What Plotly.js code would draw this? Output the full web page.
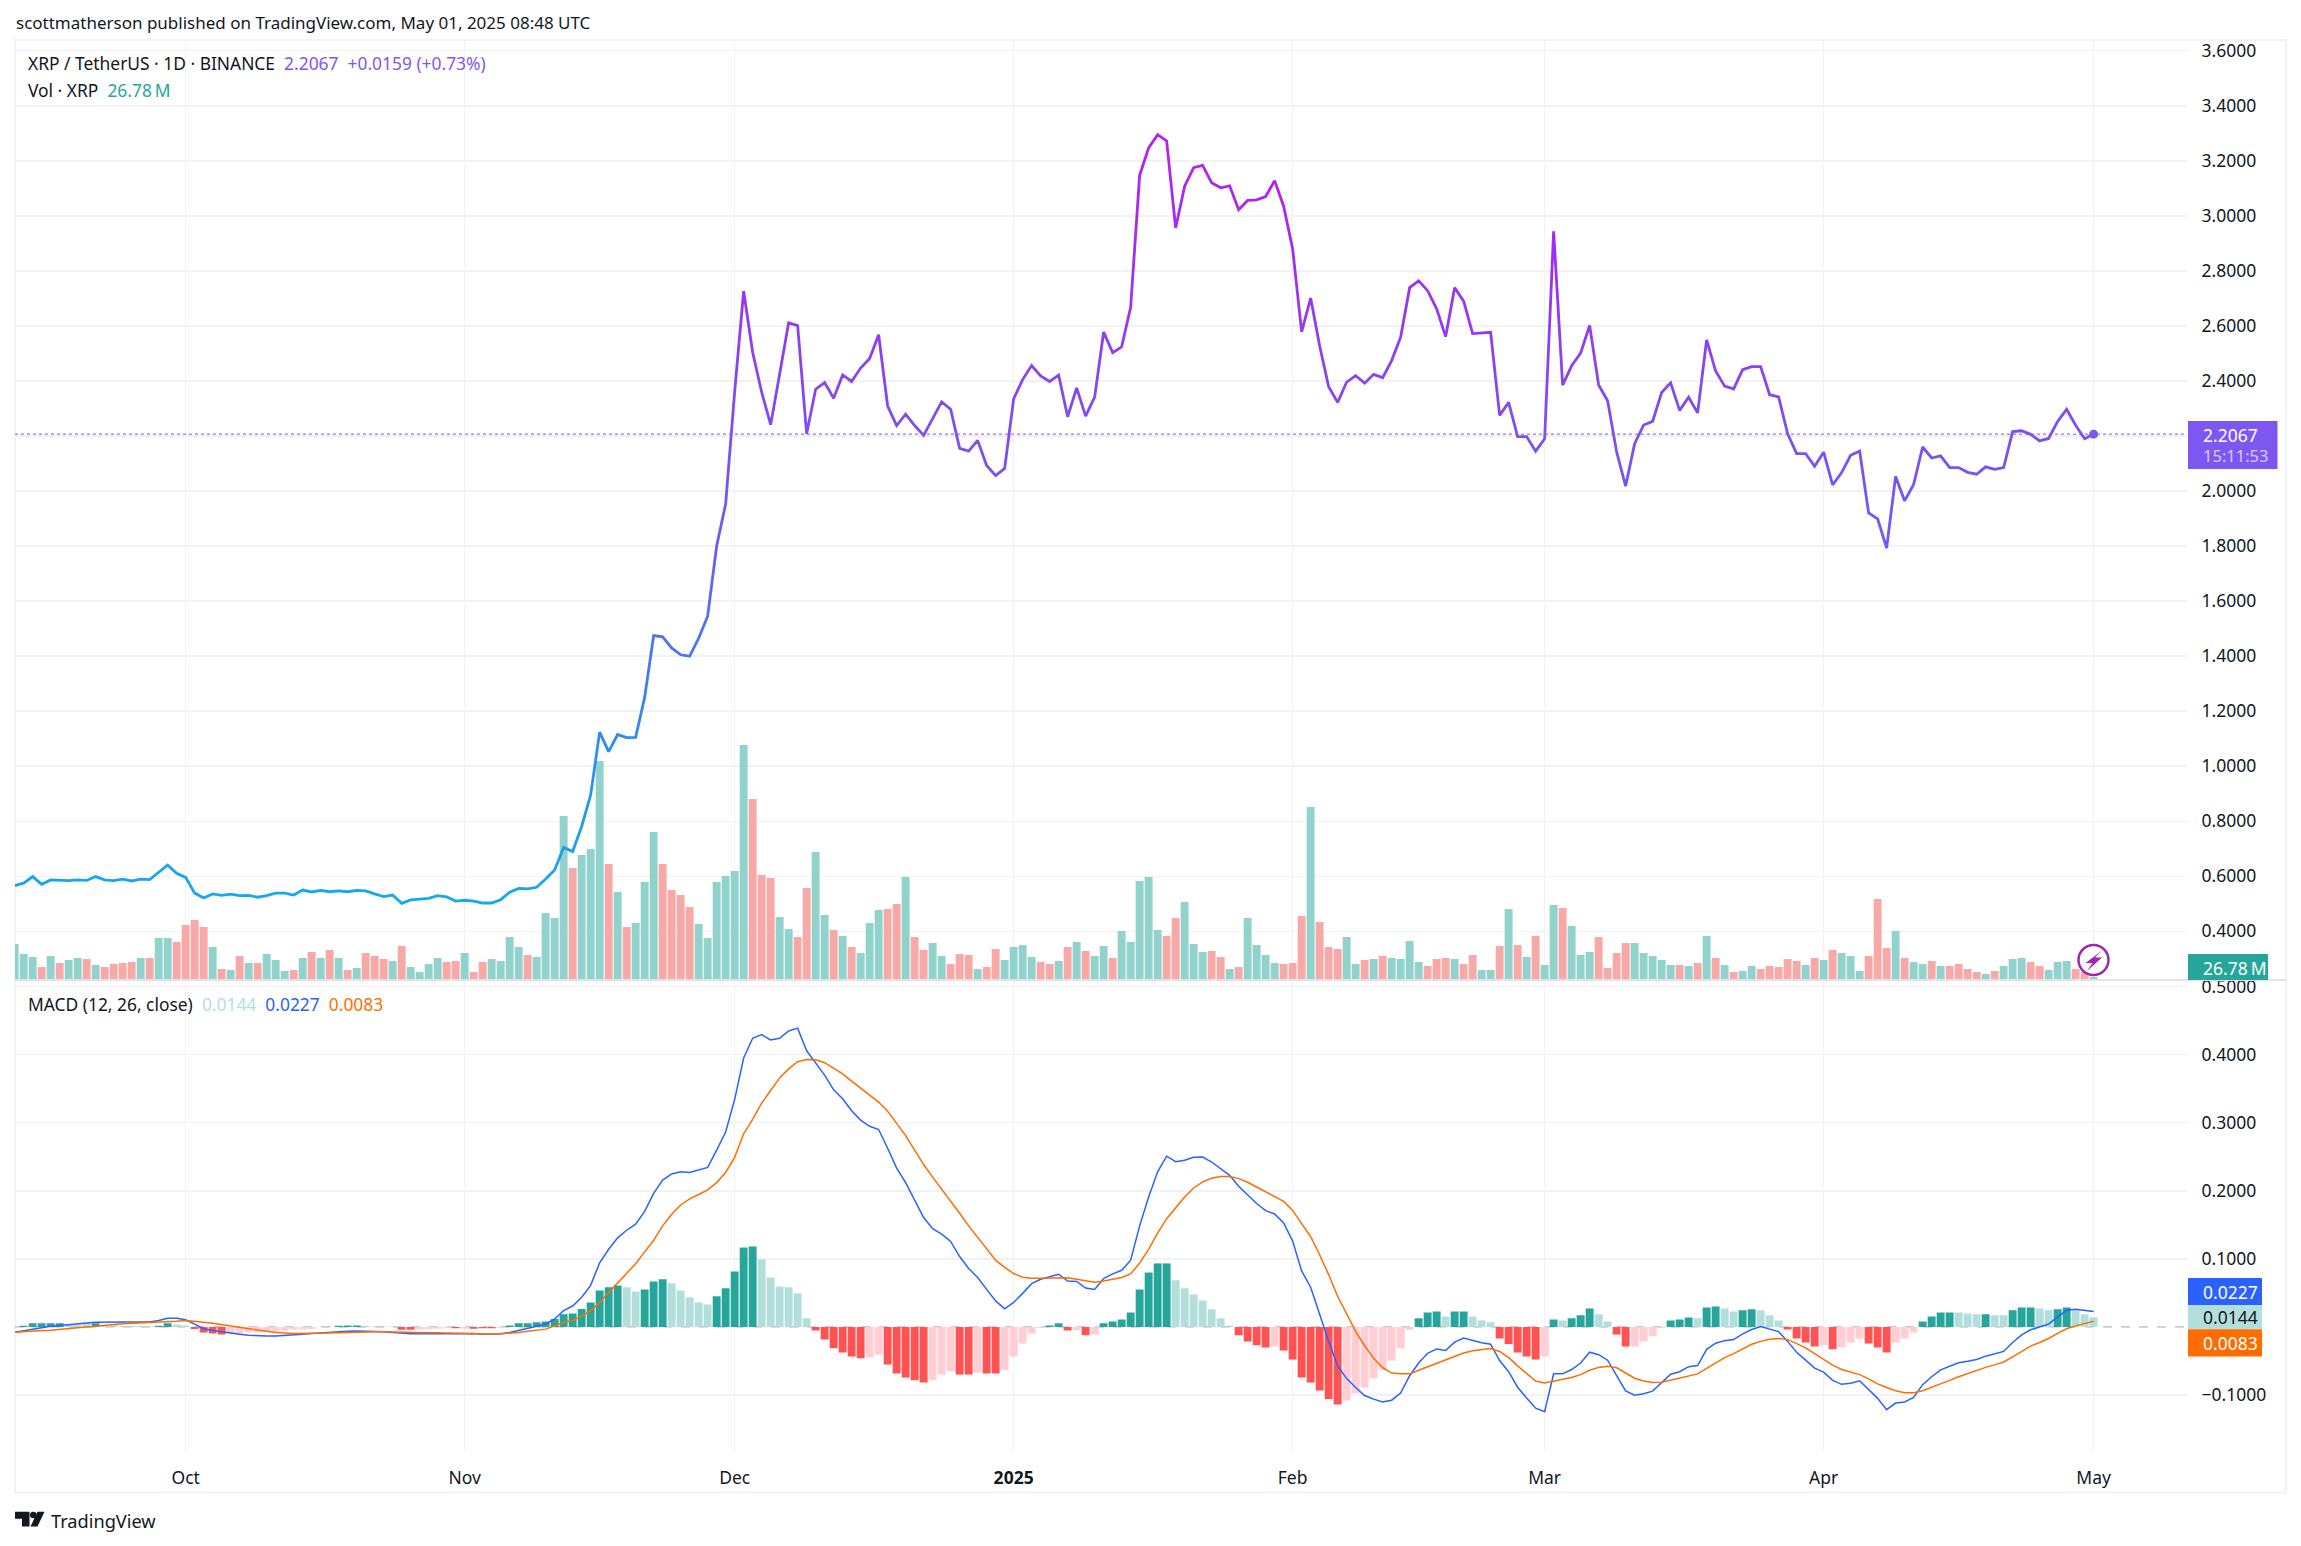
<!DOCTYPE html>
<html><head><meta charset="utf-8">
<script src="https://cdn.plot.ly/plotly-3.0.1.min.js"></script>
<style>html,body{margin:0;padding:0;background:#fff}</style></head>
<body><div id="chart" style="width:2301px;height:1546px"></div>
<script>
const startDate = '2024-09-12';
const monthTickDates = ['2024-10-01','2024-11-01','2024-12-01','2025-01-01','2025-02-01','2025-03-01','2025-04-01','2025-05-01'];
const monthTickLabels = ['Oct','Nov','Dec','<b>2025</b>','Feb','Mar','Apr','May'];
const priceTicks = [0.4,0.6,0.8,1.0,1.2,1.4,1.6,1.8,2.0,2.2,2.4,2.6,2.8,3.0,3.2,3.4,3.6];
const macdTicks = [-0.1,0.1,0.2,0.3,0.4,0.5];

const closeSep = [.566,.575,.599,.571,.587,.585,.584,.587,.585,.599,.587,.584,.590,.583,.590,.588,.615,.641,.611];
const closeOct = [.596,.539,.521,.536,.531,.535,.530,.531,.524,.530,.539,.539,.532,.550,.543,.549,.544,.547,.544,.549,.547,.536,.526,.532,.502,.514,.518,.520,.530,.525,.510];
const closeNov = [.513,.510,.503,.503,.515,.542,.556,.554,.560,.590,.623,.705,.690,.781,.896,1.124,1.053,1.115,1.104,1.105,1.25,1.475,1.47,1.43,1.405,1.40,1.465,1.545,1.80,1.953];
const closeDec = [2.36,2.726,2.504,2.359,2.241,2.425,2.611,2.601,2.208,2.370,2.394,2.337,2.422,2.398,2.447,2.482,2.568,2.309,2.238,2.279,2.238,2.202,2.262,2.324,2.297,2.155,2.145,2.184,2.093,2.056,2.082];
const closeJan = [2.335,2.405,2.456,2.418,2.398,2.421,2.270,2.375,2.272,2.341,2.578,2.503,2.524,2.668,3.147,3.247,3.295,3.272,2.956,3.108,3.175,3.183,3.120,3.102,3.109,3.022,3.056,3.058,3.070,3.128,3.035];
const closeFeb = [2.880,2.578,2.701,2.528,2.379,2.322,2.396,2.419,2.392,2.424,2.412,2.474,2.559,2.739,2.764,2.728,2.662,2.561,2.739,2.690,2.572,2.575,2.577,2.275,2.322,2.198,2.198,2.145];
const closeMar = [2.190,2.944,2.385,2.455,2.501,2.602,2.385,2.328,2.142,2.018,2.172,2.240,2.253,2.358,2.393,2.293,2.341,2.284,2.549,2.436,2.381,2.371,2.441,2.452,2.452,2.350,2.342,2.208,2.136,2.136,2.090];
const closeApr = [2.141,2.022,2.067,2.130,2.145,1.920,1.899,1.793,2.053,1.964,2.024,2.160,2.120,2.128,2.085,2.085,2.068,2.061,2.088,2.079,2.085,2.216,2.219,2.206,2.182,2.191,2.253,2.297,2.239,2.190];
const closeMay = [2.2067];

const volumeM = [324,234,207,117,216,153,180,198,189,135,
117,144,153,162,198,198,378,378,342,495,
540,477,297,99,90,216,153,153,234,180,
81,90,198,252,198,270,198,90,108,243,
216,189,171,306,117,72,144,198,162,171,
243,72,162,189,171,387,297,225,207,603,
558,1476,1008,1125,1179,1971,1044,792,477,513,
882,1332,1044,810,765,657,504,378,882,936,
981,2115,1629,945,918,567,459,387,828,1152,
585,450,396,297,243,513,630,639,684,927,
387,270,333,216,144,234,225,99,117,279,
180,297,315,207,162,144,171,297,342,261,
216,306,198,441,342,891,927,450,396,558,
702,324,252,261,207,99,117,558,315,225,
153,144,153,576,1557,522,297,279,387,144,
180,189,216,198,189,351,162,126,189,198,
189,144,225,90,90,306,639,315,207,396,
135,675,648,486,225,252,387,108,243,333,
333,243,216,180,135,135,126,153,396,198,
135,72,81,126,99,126,117,189,171,135,
198,180,270,243,216,81,216,729,288,441,
198,162,144,171,126,126,144,99,72,54,
81,126,189,198,162,126,90,162,171,99,
75,26.78];
const volumeDirection = ('gggrgrggrg'+'rrrrgrggrr'+'rrgrgrgrgg'+'grgrgrgrgr'+'rrgrggggrr'+'grrggggrgg'+'ggrgggrgrg'+'ggrrrrgggg'+
 'ggrrrggrrg'+'grgrgggrrg'+'rrggrrrgrr'+'ggggrrgrgr'+'ggrgggggrr'+'gggrrgrggg'+'grrrgrrrgg'+'rgrggggrrr'+
 'grrggrgrgr'+'ggrgggrrrr'+'gggggrgrgr'+'grggrrrrrg'+'rgrgggrrrg'+'rggrgrrrrg'+'rgggrrgggr'+'rg').split('');

const macdLine = [-.008,-.0058,-.0032,-.0016,.0011,.0021,.0037,.0048,.0058,.0069,.0074,.008,.0074,.0074,.0069,.0074,.0095,.0127,.0127,.0106,
.0042,-.0027,-.0053,-.0074,-.009,-.0106,-.0122,-.0133,-.0133,-.0133,-.0127,-.0117,-.0106,-.0095,-.0085,-.008,-.0069,-.0064,-.0058,-.0058,
-.0064,-.0069,-.008,-.0095,-.0101,-.0101,-.0101,-.0095,-.0095,-.0095,-.009,-.0095,-.0106,-.0106,-.0101,-.008,-.0053,-.0021,.0011,.0042,
.0117,.0239,.0307,.0435,.061,.0943,.114,.1309,.142,.151,.1696,.1961,.2157,.2247,.2279,.2268,.23,.2343,.2597,.2862,
.3339,.3949,.424,.4293,.4214,.424,.4346,.4388,.4055,.388,.3699,.3482,.335,.3175,.3037,.2947,.2899,.2624,.2332,.212,
.1871,.1606,.1442,.1362,.1256,.1034,.0859,.0726,.0551,.0382,.0265,.036,.0493,.0636,.07,.0742,.0774,.0673,.0668,.0572,
.0551,.071,.0779,.0832,.0981,.1484,.1908,.2279,.2507,.2427,.2449,.2491,.2496,.2422,.2321,.2226,.2067,.1945,.1813,.1707,
.1659,.1526,.1261,.0822,.0583,.0186,-.0212,-.0572,-.0758,-.089,-.1007,-.106,-.1102,-.1076,-.097,-.0716,-.053,-.0387,-.0323,-.0345,
-.0223,-.0164,-.0201,-.0233,-.0254,-.0493,-.0657,-.0885,-.1044,-.1193,-.1246,-.0689,-.0689,-.0625,-.053,-.0371,-.0408,-.0488,-.0716,-.0938,
-.1002,-.0981,-.0943,-.0822,-.0694,-.0657,-.0583,-.0567,-.0329,-.0239,-.0201,-.0186,-.0101,-.0037,.0005,-.0032,-.0069,-.0212,-.0371,-.0488,
-.0604,-.0663,-.0784,-.0843,-.0827,-.079,-.0917,-.1049,-.1214,-.1118,-.1102,-.1034,-.0848,-.0731,-.0631,-.0572,-.0525,-.0504,-.0477,-.0429,
-.0392,-.036,-.0228,-.0117,-.0042,0,.0042,.0148,.0244,.026,.0244,.0227];

const signalLine = [-.008,-.0069,-.0064,-.0053,-.0048,-.0032,-.0021,-.0011,0,.0016,.0027,.0037,.0048,.0053,.0058,.0064,.0069,.008,.0085,.0095,
.0085,.0069,.0053,.0032,.0011,-.0011,-.0027,-.0048,-.0064,-.008,-.009,-.0095,-.0095,-.0095,-.0095,-.009,-.0085,-.008,-.0074,-.0074,
-.0069,-.0069,-.0074,-.008,-.0085,-.0085,-.0085,-.0085,-.009,-.009,-.009,-.0095,-.0101,-.0106,-.0101,-.0095,-.008,-.0064,-.0048,-.0032,
.0016,.0064,.0095,.0159,.0239,.036,.0504,.0647,.0784,.0928,.1102,.1272,.1484,.1654,.1791,.1882,.1945,.2014,.212,.2268,
.2491,.2836,.3048,.3286,.3472,.3657,.379,.3896,.3927,.3922,.388,.38,.3715,.3609,.3509,.3403,.3302,.3169,.2995,.2809,
.2597,.2385,.22,.2025,.1855,.167,.1484,.1314,.114,.0981,.0875,.0784,.0731,.0716,.0716,.0721,.0726,.0721,.07,.0673,
.0657,.0673,.0694,.0726,.0779,.0938,.114,.1378,.159,.1749,.1908,.2041,.2131,.2184,.221,.221,.2178,.2125,.2056,.1988,
.1919,.1844,.1712,.1526,.1325,.106,.0769,.0451,.0186,-.0064,-.0276,-.0461,-.0599,-.0678,-.0689,-.0689,-.0636,-.0583,-.053,-.0488,
-.0435,-.0382,-.035,-.0329,-.0318,-.036,-.0451,-.0572,-.0689,-.0795,-.0822,-.0795,-.0774,-.0742,-.07,-.0636,-.0594,-.0578,-.0599,-.0678,
-.0753,-.0795,-.0816,-.0811,-.0779,-.0758,-.0726,-.0689,-.061,-.053,-.0451,-.0392,-.0318,-.0254,-.0212,-.018,-.017,-.0186,-.0244,-.0307,
-.0392,-.0477,-.0562,-.0625,-.0657,-.07,-.0763,-.0837,-.089,-.0938,-.0965,-.0965,-.0938,-.089,-.0837,-.0784,-.0731,-.0684,-.0641,-.0594,
-.0557,-.0514,-.044,-.036,-.0281,-.0228,-.017,-.0095,-.0027,.0016,.0048,.0083];

const macdHist = [.0003,.0016,.0053,.0053,.0053,.0053,.0037,.0037,.0053,.0053,.0027,.0027,.0016,.0016,.0016,.0011,.0016,.0053,.0037,.0021,
-.0032,-.008,-.0095,-.0111,-.0095,-.0095,-.008,-.008,-.0069,-.0069,-.0053,-.0042,-.0037,-.0032,-.0005,.0003,.0016,.0021,.0021,.0016,
.0005,.0005,.0005,-.0042,-.0042,-.0037,-.0032,-.0027,-.0021,-.0021,-.0027,-.0027,-.0021,-.0021,-.0021,.0021,.0053,.0053,.0069,.008,
.0117,.0186,.0196,.0265,.036,.0535,.0583,.061,.0583,.0519,.0551,.0668,.07,.0641,.0535,.0435,.036,.0329,.0451,.0567,
.0816,.1166,.1182,.0991,.0726,.0594,.0583,.0493,.0127,-.0053,-.0186,-.0313,-.0376,-.0435,-.0461,-.0445,-.0403,-.0551,-.0684,-.0742,
-.0784,-.0816,-.0784,-.07,-.0652,-.07,-.07,-.0668,-.0684,-.0684,-.0636,-.0435,-.0244,-.0095,-.0016,.0021,.0053,-.0053,-.0048,-.0122,
-.0111,.0053,.008,.0111,.0212,.0551,.08,.0933,.0933,.0684,.0567,.0477,.0387,.026,.0127,.0021,-.0122,-.0212,-.027,-.0302,
-.0286,-.0345,-.0477,-.0742,-.0816,-.0933,-.106,-.114,-.1081,-.0975,-.089,-.0758,-.0636,-.0493,-.0313,-.0042,.0127,.0212,.0228,.0154,
.0228,.0228,.0154,.0095,.0069,-.017,-.0249,-.0376,-.0435,-.0477,-.0435,.0111,.0095,.0127,.017,.027,.0186,.008,-.0111,-.0286,
-.0286,-.0212,-.0138,-.0016,.0095,.0111,.0138,.0127,.0286,.0302,.027,.0228,.0244,.026,.0244,.017,.0095,-.0037,-.017,-.0228,
-.0286,-.027,-.0329,-.0302,-.0228,-.017,-.0244,-.0302,-.0376,-.0228,-.017,-.008,.008,.0154,.0212,.0212,.0212,.0196,.0186,.0186,
.017,.017,.0244,.0286,.0286,.027,.0244,.026,.0286,.0244,.0186,.0144];
const macdHistState = ('gGGGGG'+'ggg'+'G'+'gggggg'+'GG'+'gg'+'RRRR'+'rrrrrrrrrrr'+'g'+'GGG'+'gggg'+'RR'+'rrrr'+'R'+'r'+'RRR'+'r'+
 'GGGGGGGGGGGGG'+'gg'+'GGG'+'ggggg'+'GGGGG'+'gggggg'+'RRRRRR'+'rr'+'RRRRR'+'rrr'+'RR'+'r'+'RR'+'rrrrr'+'GG'+'RrRr'+
 'GGGGGGGG'+'ggggggg'+'RRRR'+'r'+'RRRRRRR'+'rrrrrrrr'+'GGG'+'g'+'GG'+'ggg'+'RRRRR'+'r'+'Gg'+'GGG'+'gg'+'RR'+'rrrr'+
 'GGG'+'g'+'GG'+'gg'+'GG'+'ggg'+'RRRR'+'r'+'R'+'rrr'+'RRR'+'rrr'+'GGGG'+'ggg'+'G'+'gg'+'GGG'+'gg'+'GG'+'ggg').split('');

const closes = [].concat(closeSep,closeOct,closeNov,closeDec,closeJan,closeFeb,closeMar,closeApr,closeMay);
const dates = closes.map((_,i)=>new Date(Date.parse(startDate+'T00:00:00Z')+i*864e5).toISOString().slice(0,10));

const INK='#131722', PURPLE='#7e57f2', GRID='#f1f2f4', FONT='"Noto Sans", sans-serif';
const volColor={g:'#92d2cc',r:'#f7a9a7'};
const histColor={G:'#26a69a',g:'#b2dfdb',R:'#ff5252',r:'#ffcdd2'};
const lastClose=closes[closes.length-1];
const lastDate=dates[dates.length-1];

const px=x=>x/2301, py=y=>1-y/1546;
const rect=(x0,y0,x1,y1,fill)=>({type:'rect',xref:'paper',yref:'paper',x0:px(x0),x1:px(x1),y0:py(y0),y1:py(y1),fillcolor:fill,line:{width:0},layer:'above'});
const poly=(pts,fill)=>({type:'path',xref:'paper',yref:'paper',layer:'above',fillcolor:fill,line:{width:0},
  path:'M'+pts.map(p=>px(p[0])+','+py(p[1])).join(' L')+' Z'});
const txt=(x,y,text,size,color,extra)=>Object.assign({xref:'paper',yref:'paper',x:px(x),y:py(y),text,showarrow:false,xanchor:'left',yanchor:'middle',
  borderpad:0,font:{family:FONT,size,color}},extra||{});

const traces=[
 {type:'bar',x:dates,y:volumeM,xaxis:'x',yaxis:'y',marker:{color:volumeDirection.map(d=>volColor[d]),line:{width:0}},hoverinfo:'skip',name:'Vol'},
 {type:'scatter',mode:'lines',x:dates,y:closes,xaxis:'x',yaxis:'y2',line:{color:'#7e57f3',width:2.8,shape:'linear'},hoverinfo:'skip',name:'XRP / TetherUS'},
 {type:'scatter',mode:'markers',x:[lastDate],y:[lastClose],xaxis:'x',yaxis:'y2',marker:{color:PURPLE,size:9},hoverinfo:'skip',name:'Last'},
 {type:'bar',x:dates,y:macdHist,xaxis:'x',yaxis:'y3',marker:{color:macdHistState.map(s=>histColor[s]),line:{width:0}},hoverinfo:'skip',name:'Histogram'},
 {type:'scatter',mode:'lines',x:dates,y:macdLine,xaxis:'x',yaxis:'y3',line:{color:'#2962ff',width:1.5},hoverinfo:'skip',name:'MACD'},
 {type:'scatter',mode:'lines',x:dates,y:signalLine,xaxis:'x',yaxis:'y3',line:{color:'#ff6d00',width:1.5},hoverinfo:'skip',name:'Signal'}
];

const layout={
 width:2301,height:1546,margin:{l:0,r:0,t:0,b:0},paper_bgcolor:'#fff',plot_bgcolor:'#fff',showlegend:false,bargap:0.12,
 font:{family:FONT,color:INK,size:17},
 xaxis:{type:'date',domain:[px(15),px(2187)],range:['2024-09-12 00:55','2025-05-11 09:00'],anchor:'y3',
  tickmode:'array',tickvals:monthTickDates,ticktext:monthTickLabels,tickfont:{size:17.5,color:INK,family:FONT},
  ticks:'outside',ticklen:11,tickcolor:'rgba(0,0,0,0)',showgrid:true,gridcolor:GRID,gridwidth:1,zeroline:false,showline:false},
 yaxis:{domain:[py(980),py(40)],range:[0,8460],visible:false,fixedrange:true},
 yaxis2:{domain:[py(980),py(40)],overlaying:'y',anchor:'x',side:'right',range:[0.2232,3.6389],
  tickmode:'array',tickvals:priceTicks,tickformat:'.4f',tickfont:{size:17.5,color:INK,family:FONT},
  ticks:'outside',ticklen:10,tickcolor:'rgba(0,0,0,0)',showgrid:true,gridcolor:GRID,gridwidth:1.5,zeroline:false,showline:false},
 yaxis3:{domain:[py(1450.6),py(980)],anchor:'x',side:'right',range:[-0.1816,0.5095],
  tickmode:'array',tickvals:macdTicks,tickformat:'.4f',tickfont:{size:17.5,color:INK,family:FONT},
  ticks:'outside',ticklen:10,tickcolor:'rgba(0,0,0,0)',showgrid:true,gridcolor:GRID,gridwidth:1.5,zeroline:false,showline:false},
 shapes:[
  {type:'rect',xref:'paper',yref:'paper',x0:px(15),x1:px(2286),y0:py(40),y1:py(1492.5),line:{color:'#f0f3fa',width:2},fillcolor:'rgba(0,0,0,0)',layer:'below'},
  {type:'line',xref:'paper',yref:'paper',x0:px(15),x1:px(2286),y0:py(980),y1:py(980),line:{color:'#e0e3eb',width:2},layer:'above'},
  {type:'line',xref:'paper',yref:'y2',x0:px(15),x1:px(2187),y0:lastClose,y1:lastClose,line:{color:PURPLE,width:1,dash:'dot'},layer:'above'},
  {type:'line',xref:'paper',yref:'y3',x0:px(15),x1:px(2187),y0:0,y1:0,line:{color:'#a3a6af',width:1,dash:'dash'},layer:'below'},
  rect(2188,421,2277.5,469,PURPLE),
  rect(2188,954,2268,980,'#26a69a'),
  rect(2188,1278,2262,1305.2,'#2962ff'),
  rect(2188,1305.2,2262,1329.2,'#b2dfdb'),
  rect(2188,1329.2,2262,1356.5,'#ff6d00'),
  {type:'circle',xref:'paper',yref:'paper',x0:px(2078.5),x1:px(2108.5),y0:py(945),y1:py(975),fillcolor:'#fff',line:{color:'#9c27b0',width:2.5},layer:'above'},
  poly([[2101.5,951],[2085.5,963],[2092.5,963],[2087,971],[2102,957.5],[2095,957.5]],'#9c27b0'),
  poly([[15,1511.7],[29.5,1511.7],[29.5,1526.5],[22,1526.5],[22,1518.7],[15,1518.7]],INK),
  poly([[30.5,1526.5],[37.5,1526.5],[44.5,1511.7],[37.5,1511.7]],INK),
  {type:'circle',xref:'paper',yref:'paper',x0:px(30),x1:px(36.6),y0:py(1511.7),y1:py(1518.3),fillcolor:INK,line:{width:0},layer:'above'}
 ],
 annotations:[
  txt(15,23,'scottmatherson published on TradingView.com, May 01, 2025 08:48 UTC',17,INK),
  txt(27,63.5,'XRP / TetherUS · 1D · BINANCE\u00a0\u00a0<span style="color:#7e57f2">2.2067\u00a0\u00a0+0.0159 (+0.73%)</span>',17.4,INK),
  txt(27,90,'Vol · XRP\u00a0\u00a0<span style="color:#26a69a">26.78\u2009M</span>',17.4,INK),
  txt(27,1003.7,'MACD (12, 26, close)\u00a0\u00a0<span style="color:#b2dfdb">0.0144</span>\u00a0\u00a0<span style="color:#2962ff">0.0227</span>\u00a0\u00a0<span style="color:#ff6d00">0.0083</span>',17.4,INK),
  txt(2201.7,435,'2.2067',17.5,'#ffffff'),
  txt(2201.7,455.5,'15:11:53',16.5,'#d8ccfb'),
  txt(2201.7,967.5,'26.78\u2009M',17.5,'#ffffff'),
  txt(2201.7,1291.7,'0.0227',17.5,'#ffffff'),
  txt(2201.7,1317.4,'0.0144',17.5,INK),
  txt(2201.7,1343,'0.0083',17.5,'#ffffff'),
  txt(50,1520.6,'TradingView',18.2,INK)
 ]
};

Plotly.newPlot('chart',traces,layout,{staticPlot:true,displayModeBar:false}).then(gd=>{
  const svgNS='http://www.w3.org/2000/svg';
  const defs=gd.querySelector('svg.main-svg defs');
  const g=document.createElementNS(svgNS,'linearGradient');
  g.setAttribute('id','priceGradient');
  g.setAttribute('x1','0');g.setAttribute('x2','0');g.setAttribute('y1','1');g.setAttribute('y2','0');
  [[0,'#16a9ee'],[0.215,'#2f8cec'],[0.466,'#6a5cf5'],[0.61,'#7d4ff0'],[0.86,'#a22cf0'],[1,'#bb1ef0']].forEach(s=>{
    const st=document.createElementNS(svgNS,'stop');
    st.setAttribute('offset',s[0]);st.setAttribute('stop-color',s[1]);g.appendChild(st);
  });
  defs.appendChild(g);
  gd.querySelectorAll('path.js-line').forEach(p=>{
    if(getComputedStyle(p).stroke==='rgb(126, 87, 243)') p.style.setProperty('stroke','url(#priceGradient)');
  });
});
</script></body></html>
